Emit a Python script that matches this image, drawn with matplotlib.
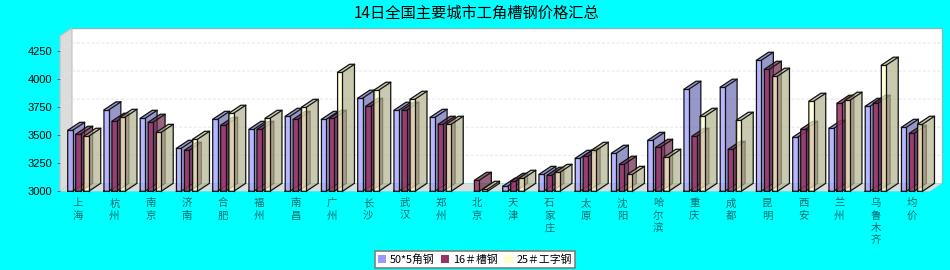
import matplotlib
matplotlib.use('Agg')
import matplotlib.pyplot as plt
from matplotlib.patches import Polygon, Patch

cities = ['上海', '杭州', '南京', '济南', '合肥', '福州', '南昌', '广州', '长沙', '武汉', '郑州', '北京',
          '天津', '石家庄', '太原', '沈阳', '哈尔滨', '重庆', '成都', '昆明', '西安', '兰州', '乌鲁木齐', '均价']
angle = [3543, 3725, 3650, 3383, 3641, 3552, 3668, 3641, 3829, 3722, 3659, 0,
         3045, 3151, 3294, 3339, 3454, 3909, 3927, 4167, 3481, 3561, 3757, 3570]
channel = [3508, 3624, 3615, 3365, 3588, 3552, 3641, 3650, 3757, 3722, 3597, 3098,
           3089, 3143, 3312, 3241, 3392, 3490, 3374, 4087, 3552, 3784, 3784, 3517]
ibeam = [3490, 3659, 3525, 3463, 3695, 3650, 3748, 4060, 3900, 3820, 3597, 3018,
         3116, 3169, 3365, 3151, 3303, 3668, 3633, 4025, 3802, 3811, 4123, 3597]
names = ['50*5角钢', '16＃槽钢', '25＃工字钢']
colors = ['#9999FF', '#993366', '#FFFFCC']
sides = ['#6B6BB2', '#6B2347', '#B2B28E']
front_alpha = [0.7, 0.88, 0.7]
yticks = [3000, 3250, 3500, 3750, 4000, 4250]

W, H = 950, 270
CJK = ['Noto Sans CJK SC', 'DejaVu Sans']
plt.rcParams['font.family'] = ['Liberation Sans', 'Noto Sans CJK SC']

fig = plt.figure(figsize=(W / 100, H / 100), dpi=100, facecolor='#00FFFF')
# front plane of the chart, in pixels: x 60..930, y 36..191.3
ax = fig.add_axes([60 / W, 1 - 191.3 / H, 870 / W, 155.3 / H])
ax.set_xlim(0, 24)
ax.set_ylim(3000, 4383)
ax.patch.set_alpha(0)
for s in ax.spines.values():
    s.set_visible(False)

# depth of the fake 3d box in data units (12px, 8px)
dx = 12 / 36.25
dy = 8 / 0.1123
y0, y1 = 3000, 4383
x0, x1 = 0, 24

def poly(pts, fc, ec='none', lw=0, alpha=1, z=1):
    ax.add_patch(Polygon(pts, closed=True, fc=fc, ec=ec, lw=lw, alpha=alpha, zorder=z, clip_on=False))

poly([(x0 + dx, y0 + dy), (x1 + dx, y0 + dy), (x1 + dx, y1 + dy), (x0 + dx, y1 + dy)], 'white', z=1)
poly([(x0, y0), (x0 + dx, y0 + dy), (x0 + dx, y1 + dy), (x0, y1)], '#DCDCDC', '#C0C0C0', 0.8, z=1)
poly([(x0, y0), (x1, y0), (x1 + dx, y0 + dy), (x0 + dx, y0 + dy)], '#DCDCDC', z=1)
ax.plot([x0 + dx, x1 + dx, x1 + dx], [y1 + dy, y1 + dy, y0 + dy], color='#7FBFBF', lw=1, zorder=1.5, clip_on=False)
for t in yticks[1:]:
    ax.plot([x0, x0 + dx, x1 + dx], [t, t + dy, t + dy], color='#E4E4E4', lw=0.7, ls=(0, (3, 2)), zorder=1.5, clip_on=False)

bar_w = 0.135
offsets = [-0.22, 0.0, 0.225]

def bar(x, v, k):
    if v <= 3000:
        return
    a = x + offsets[k] - bar_w / 2
    b = a + bar_w
    z = 2 + k * 0.1
    poly([(b, 3000), (b + dx, 3000 + dy), (b + dx, v + dy), (b, v)], sides[k], alpha=0.7, z=z)
    poly([(a, v), (b, v), (b + dx, v + dy), (a + dx, v + dy)], sides[k], alpha=0.7, z=z)
    poly([(a, 3000), (b, 3000), (b, v), (a, v)], colors[k], alpha=front_alpha[k], z=z)
    for pts in ([(a, 3000), (a, v), (a + dx, v + dy), (b + dx, v + dy), (b + dx, 3000 + dy), (b, 3000), (a, 3000)],
                [(a, v), (b, v), (b, 3000)], [(b, v), (b + dx, v + dy)]):
        ax.plot(*zip(*pts), color='#111111', lw=0.9, zorder=z, clip_on=False, solid_joinstyle='miter')

for k, vals in enumerate([angle, channel, ibeam]):
    for i, v in enumerate(vals):
        bar(i + 0.5, v, k)

ax.set_yticks(yticks)
ax.tick_params(axis='y', length=2.5, width=0.7, color='#666666', labelsize=8, pad=3)
ax.set_xticks([i + 0.5 for i in range(len(cities))])
ax.set_xticklabels(['\n'.join(c) for c in cities], family=CJK, fontsize=7.5, color='#006A6A', linespacing=1.3)
ax.tick_params(axis='x', length=0, pad=5)

fig.text(476 / W, 1 - 13 / H, '14日全国主要城市工角槽钢价格汇总', ha='center', va='center', fontsize=11, color='black', family=CJK)

handles = [Patch(fc=c, ec='none') for c in colors]
leg = fig.legend(handles, names, loc='center', bbox_to_anchor=(475 / W, 1 - 259.5 / H), ncol=3,
                 frameon=True, fancybox=False, facecolor='white', edgecolor='#808080', framealpha=1,
                 handlelength=0.75, handleheight=0.75, handletextpad=0.35, columnspacing=0.6, borderpad=0.3,
                 borderaxespad=0, prop={'family': CJK, 'size': 7.8})
leg.get_frame().set_linewidth(1.2)

fig.savefig('out.png', dpi=100, facecolor=fig.get_facecolor())
